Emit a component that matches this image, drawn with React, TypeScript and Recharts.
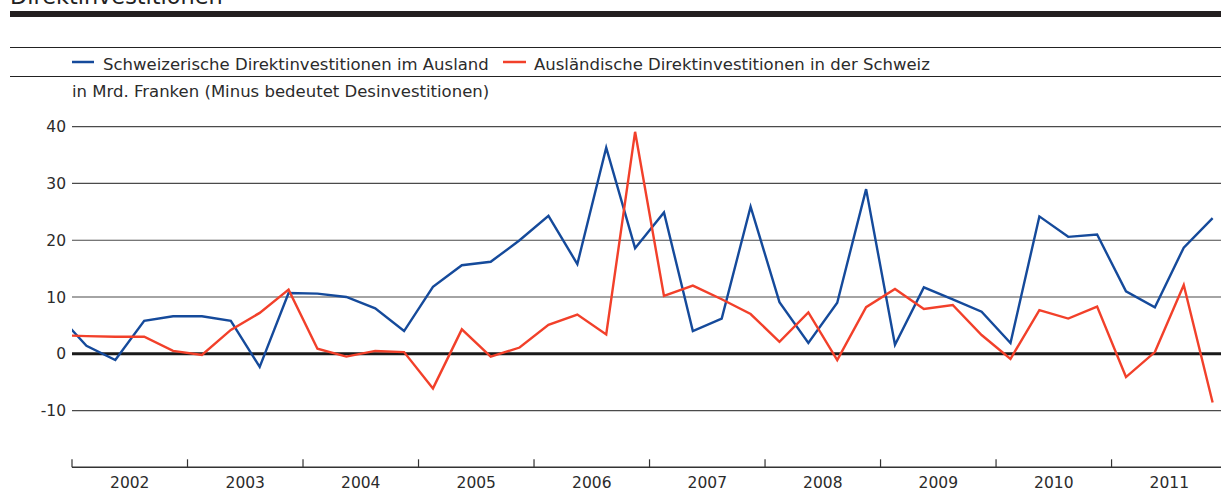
import React from "react";
import { LineChart, Line, XAxis, YAxis, ReferenceLine } from "recharts";

const BLUE = "#154a9b";
const RED = "#f2402a";
const INK = "#2b2b2b";
const FONT = "DejaVu Sans";

const title = "Direktinvestitionen";
const unitNote = "in Mrd. Franken (Minus bedeutet Desinvestitionen)";
const seriesNames = {
  abroad: "Schweizerische Direktinvestitionen im Ausland",
  inSwiss: "Ausländische Direktinvestitionen in der Schweiz",
};

const years = ["2002", "2003", "2004", "2005", "2006", "2007", "2008", "2009", "2010", "2011"];

// first entry is 2001 Q4, only its segment into 2002 is visible
const quarterLabels = ["2001 Q4", ...years.flatMap((y) => ["Q1", "Q2", "Q3", "Q4"].map((q) => `${y} ${q}`))];

// Schweizerische Direktinvestitionen im Ausland, Mrd. CHF
const swissAbroad = [
  7.0,
  1.4, -1.1, 5.8, 6.6,
  6.6, 5.8, -2.3, 10.7,
  10.6, 10.0, 8.0, 4.0,
  11.8, 15.6, 16.2, 20.0,
  24.3, 15.8, 36.3, 18.6,
  24.9, 4.0, 6.2, 25.9,
  9.1, 1.9, 9.0, 29.0,
  1.6, 11.7, 9.6, 7.4,
  1.9, 24.2, 20.6, 21.0,
  11.0, 8.2, 18.7, 23.9,
];

// Ausländische Direktinvestitionen in der Schweiz, Mrd. CHF
const foreignInSwiss = [
  3.3,
  3.1, 3.0, 3.0, 0.5,
  -0.2, 4.2, 7.2, 11.3,
  0.9, -0.5, 0.5, 0.3,
  -6.1, 4.3, -0.5, 1.1,
  5.1, 6.9, 3.4, 39.1,
  10.2, 12.0, 9.6, 7.0,
  2.1, 7.3, -1.1, 8.2,
  11.4, 7.9, 8.6, 3.3,
  -0.9, 7.7, 6.2, 8.3,
  -4.1, 0.3, 12.1, -8.6,
];

const yTicks = [-10, 0, 10, 20, 30, 40];
const gridValues = [-10, 10, 20, 30, 40];

const chartData = quarterLabels.map((label, i) => ({
  label,
  t: i - 0.5, // quarter midpoint, 0 = start of 2002
  abroad: swissAbroad[i],
  inSwiss: foreignInSwiss[i],
}));

const yearStarts = years.map((_, i) => i * 4);
const yearMids = years.map((_, i) => i * 4 + 2);

const YearMark = (props: any) => {
  const { x, y } = props;
  return <line x1={x} x2={x} y1={y - 8} y2={y} stroke="#333" strokeWidth={1.2} />;
};

const YearLabel = (props: any) => {
  const { x, y, payload } = props;
  return (
    <text x={x} y={y + 20} textAnchor="middle" fontSize={15.5} fill={INK} fontFamily={FONT}>
      {years[(payload.value - 2) / 4]}
    </text>
  );
};

const ValueTick = (props: any) => {
  const { x, y, payload } = props;
  return (
    <text x={x} y={y} dy="0.36em" textAnchor="end" fontSize={15.5} fill={INK} fontFamily={FONT}>
      {payload.value}
    </text>
  );
};

export default function App() {
  return (
    <div style={{ position: "absolute", left: 0, top: 0, width: 1221, height: 491, background: "#fff" }}>
      <LineChart
        width={1221}
        height={491}
        data={chartData}
        margin={{ top: 126.7, right: 0, bottom: 0, left: 0 }}
      >
        {/* year labels, sits under the tick axis */}
        <XAxis
          xAxisId="lab"
          dataKey="t"
          type="number"
          domain={[0, 39.79]}
          allowDataOverflow
          ticks={yearMids}
          interval={0}
          height={22.7}
          tickSize={0}
          tickMargin={0}
          tickLine={false}
          axisLine={false}
          tick={<YearLabel />}
        />
        {/* baseline with year separators pointing up */}
        <XAxis
          xAxisId="a"
          dataKey="t"
          type="number"
          domain={[0, 39.79]}
          allowDataOverflow
          ticks={yearStarts}
          interval={0}
          height={1}
          tickSize={0}
          tickMargin={0}
          tickLine={false}
          tick={<YearMark />}
          axisLine={{ stroke: "#333", strokeWidth: 1.5 }}
        />
        <YAxis
          type="number"
          domain={[-20, 40]}
          ticks={yTicks}
          interval={0}
          width={72}
          tickSize={0}
          tickMargin={6}
          tickLine={false}
          axisLine={false}
          tick={<ValueTick />}
        />
        {gridValues.map((v) => (
          <ReferenceLine key={v} xAxisId="a" y={v} stroke="#4a4a4a" strokeWidth={1.2} />
        ))}
        <ReferenceLine xAxisId="a" y={0} stroke="#1a1a1a" strokeWidth={3} />
        <Line
          xAxisId="a"
          type="linear"
          dataKey="abroad"
          name={seriesNames.abroad}
          stroke={BLUE}
          strokeWidth={2.4}
          dot={false}
          isAnimationActive={false}
        />
        <Line
          xAxisId="a"
          type="linear"
          dataKey="inSwiss"
          name={seriesNames.inSwiss}
          stroke={RED}
          strokeWidth={2.4}
          dot={false}
          isAnimationActive={false}
        />
      </LineChart>

      {/* header: cut-off title, rules, legend, unit note */}
      <svg
        width={1221}
        height={110}
        style={{ position: "absolute", left: 0, top: 0, pointerEvents: "none" }}
        fontFamily={FONT}
      >
        <text x={10} y={4} fontSize={22.4} fill="#222">
          {title}
        </text>
        <rect x={10} y={11} width={1211} height={6} fill="#231f20" />
        <line x1={10} x2={1221} y1={47.5} y2={47.5} stroke="#222" strokeWidth={1} />
        <line x1={10} x2={1221} y1={76.5} y2={76.5} stroke="#222" strokeWidth={1} />
        <line x1={72} x2={94} y1={62} y2={62} stroke={BLUE} strokeWidth={2.5} />
        <text x={103} y={69.5} fontSize={16.5} fill={INK}>
          {seriesNames.abroad}
        </text>
        <line x1={503} x2={526} y1={62} y2={62} stroke={RED} strokeWidth={2.5} />
        <text x={534} y={69.5} fontSize={16.5} fill={INK}>
          {seriesNames.inSwiss}
        </text>
        <text x={72} y={96.5} fontSize={16.5} fill={INK}>
          {unitNote}
        </text>
      </svg>
    </div>
  );
}
